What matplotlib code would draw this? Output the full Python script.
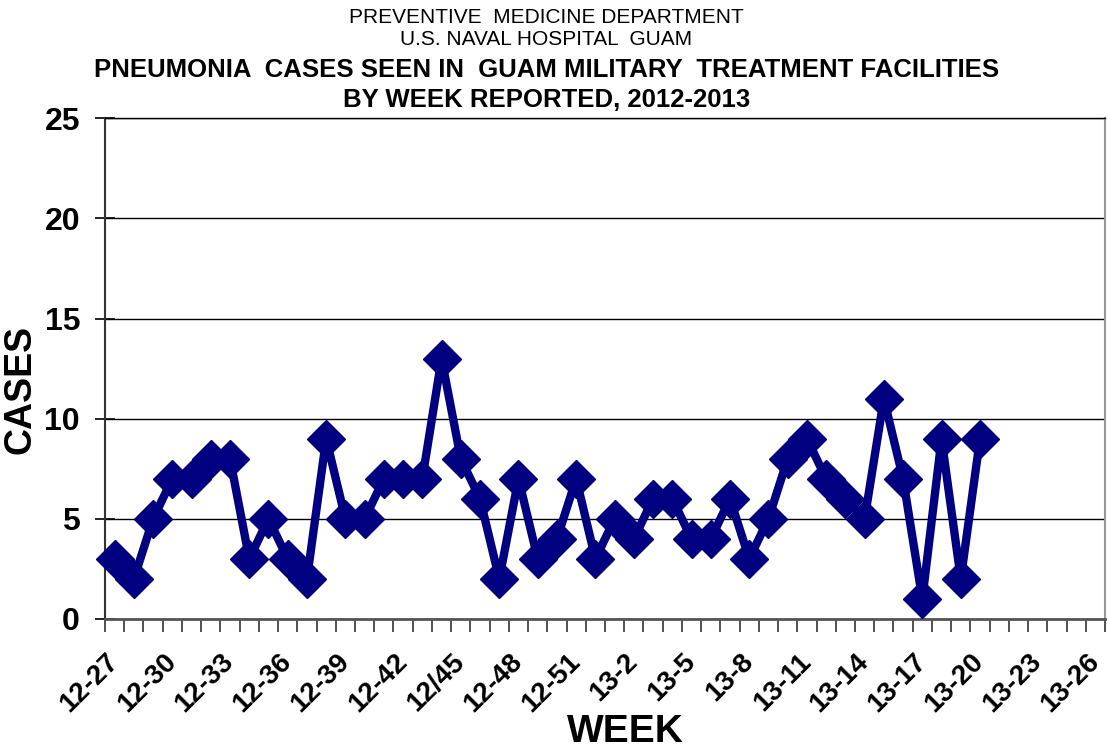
import matplotlib
matplotlib.use("Agg")
import matplotlib.pyplot as plt
import numpy as np

plt.rcParams['font.family'] = ['Liberation Sans', 'DejaVu Sans']

# Week categories 12-27 .. 12-52, 13-1 .. 13-26
weeks = [f"12-{w}" for w in range(27, 53)] + [f"13-{w}" for w in range(1, 27)]
weeks[18] = "12/45"

cases = [3, 2, 5, 7, 7, 8, 8, 3, 5, 3, 2, 9, 5, 5, 7, 7, 7, 13, 8, 6,
         2, 7, 3, 4, 7, 3, 5, 4, 6, 6, 4, 4, 6, 3, 5, 8, 9, 7, 6, 5,
         11, 7, 1, 9, 2, 9]

y_ticks = [0, 5, 10, 15, 20, 25]

fig = plt.figure(figsize=(11.08, 7.53), dpi=100)
ax = fig.add_axes([0.0948, 0.178, 0.9025, 0.665])

x = np.arange(len(cases))
ax.plot(x, cases, color='#000080', linewidth=6, marker='D', markersize=19,
        zorder=3, clip_on=False)

ax.set_xlim(-0.5, len(weeks) - 0.5)
ax.set_ylim(0, 25)
ax.set_yticks(y_ticks)
ax.yaxis.grid(True, color='black', linewidth=1)
ax.set_axisbelow(True)

# labels every 3rd week, tick marks between categories
lab_idx = list(range(0, len(weeks), 3))
ax.set_xticks(lab_idx)
ax.set_xticklabels([weeks[i] for i in lab_idx], rotation=45, ha='right', va='center',
                   rotation_mode='anchor', fontsize=20, fontweight='bold')
ax.set_xticks(np.arange(-0.5, len(weeks), 1), minor=True)
ax.tick_params(axis='x', which='major', length=0, pad=28)
ax.tick_params(axis='x', which='minor', length=9, width=1.2, color='#333333')
ax.tick_params(axis='y', direction='inout', length=14, width=1.2, labelsize=23, pad=11)
for lbl in ax.get_yticklabels():
    lbl.set_fontweight('bold')

ax.spines['left'].set_color('#333333')
ax.spines['left'].set_linewidth(1.5)
ax.spines['bottom'].set_color('#555555')
ax.spines['bottom'].set_linewidth(2)
ax.spines['right'].set_color('#999999')
ax.spines['right'].set_linewidth(1.5)
ax.spines['top'].set_color('black')
ax.spines['top'].set_linewidth(1)

ax.set_ylabel('CASES', fontsize=27, fontweight='bold')
ax.yaxis.set_label_coords(-0.067, 0.459)
ax.set_xlabel('WEEK', fontsize=28, fontweight='bold')
ax.xaxis.set_label_coords(0.52, -0.19)

fig.text(0.493, 0.977, 'PREVENTIVE  MEDICINE DEPARTMENT', ha='center', va='center', fontsize=15)
fig.text(0.493, 0.947, 'U.S. NAVAL HOSPITAL  GUAM', ha='center', va='center', fontsize=15)
fig.text(0.493, 0.907, 'PNEUMONIA  CASES SEEN IN  GUAM MILITARY  TREATMENT FACILITIES',
         ha='center', va='center', fontsize=18.5, fontweight='bold')
fig.text(0.493, 0.867, 'BY WEEK REPORTED, 2012-2013', ha='center', va='center',
         fontsize=18.5, fontweight='bold')

fig.savefig('out.png', dpi=100)
